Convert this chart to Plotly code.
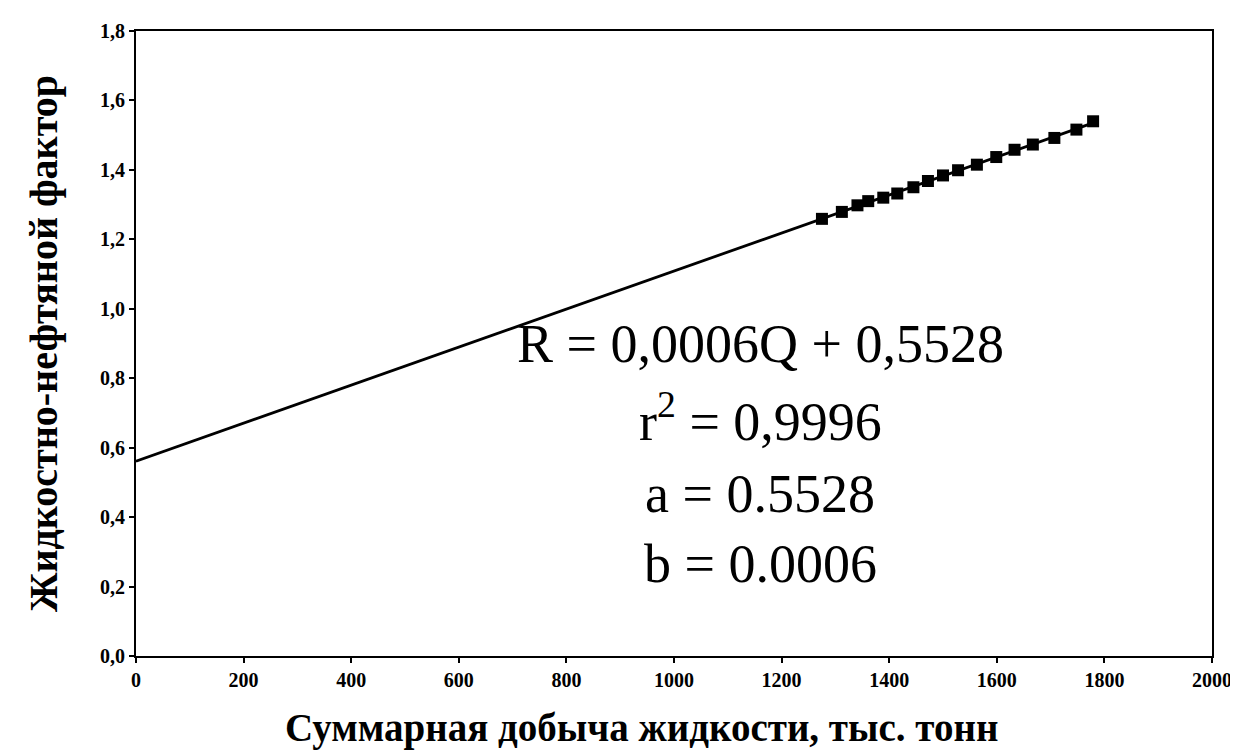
"""Жидкостно-нефтяной фактор vs суммарная добыча жидкости"""

import numpy as np
import plotly.graph_objects as go

# суммарная добыча жидкости, тыс. т
q_values = [1275, 1312, 1341, 1361, 1389, 1415, 1445, 1472, 1500,
            1528, 1563, 1599, 1633, 1667, 1707, 1748, 1779]
# жидкостно-нефтяной фактор
r_values = [1.259, 1.279, 1.298, 1.310, 1.320, 1.332, 1.350, 1.368, 1.384,
            1.399, 1.415, 1.437, 1.458, 1.473, 1.492, 1.516, 1.540]

x_ticks = [0, 200, 400, 600, 800, 1000, 1200, 1400, 1600, 1800, 2000]
y_ticks = [0.0, 0.2, 0.4, 0.6, 0.8, 1.0, 1.2, 1.4, 1.6, 1.8]
y_ticktext = ["0,0", "0,2", "0,4", "0,6", "0,8", "1,0", "1,2", "1,4", "1,6", "1,8"]

eq_lines = ["R = 0,0006Q + 0,5528", "r<sup>2</sup> = 0,9996", "a = 0.5528", "b = 0.0006"]

SERIF = "Liberation Serif, Times New Roman, serif"

# линейный тренд по точкам, от нуля до последней точки
slope, intercept = np.polyfit(q_values, r_values, 1)
trend_x = [0, max(q_values)]
trend_y = [intercept + slope * x for x in trend_x]

fig = go.Figure()
fig.add_trace(go.Scatter(
    x=trend_x, y=trend_y, mode="lines",
    line=dict(color="black", width=2.8),
    hoverinfo="skip",
))
fig.add_trace(go.Scatter(
    x=q_values, y=r_values, mode="markers",
    marker=dict(symbol="square", size=12, color="black"),
    hovertemplate="%{x}: %{y}<extra></extra>",
))

# подпись уравнения
eq_y = [0.5, 0.381, 0.26, 0.148]
for text, yy in zip(eq_lines, eq_y):
    fig.add_annotation(
        text=text, xref="paper", yref="paper", x=0.58, y=yy,
        showarrow=False, xanchor="center", yanchor="middle",
        font=dict(family=SERIF, size=54, color="black"),
    )

# подпись оси X (чуть левее центра, как в оригинале)
fig.add_annotation(
    text="Суммарная добыча жидкости, тыс. тонн",
    xref="paper", yref="paper", x=0.47, y=-0.115,
    showarrow=False, xanchor="center", yanchor="middle",
    font=dict(family=SERIF, size=39, color="black", weight="bold"),
)

axis_common = dict(
    showline=True, linecolor="black", linewidth=2, mirror=True,
    ticks="outside", ticklen=5, tickcolor="black", tickwidth=1.5,
    showgrid=False, zeroline=False,
    tickfont=dict(family=SERIF, size=20, color="black", weight="bold"),
)

fig.update_layout(
    width=1238, height=754,
    paper_bgcolor="white", plot_bgcolor="white",
    margin=dict(l=128, r=34, t=21, b=106),
    showlegend=False,
    xaxis=dict(range=[0, 2000], tickvals=x_ticks, **axis_common),
    yaxis=dict(
        range=[0, 1.8], tickvals=y_ticks, ticktext=y_ticktext,
        title=dict(text="Жидкостно-нефтяной фактор", standoff=30,
                   font=dict(family=SERIF, size=40, color="black", weight="bold")),
        **axis_common,
    ),
)

fig.write_html("out.html")
